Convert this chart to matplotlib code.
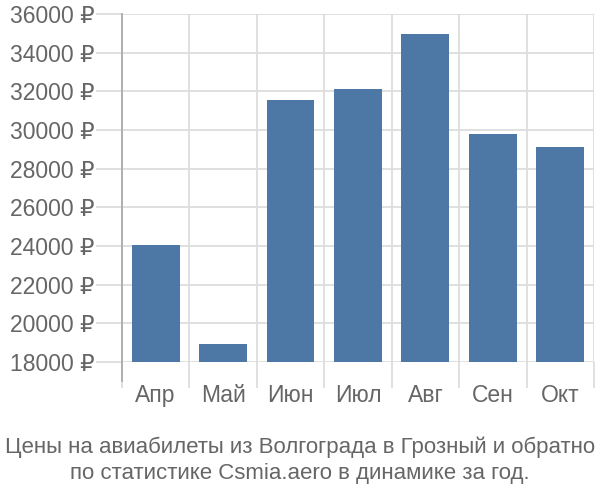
import matplotlib
matplotlib.use("Agg")
import matplotlib.pyplot as plt
import numpy as np

months = ["Апр", "Май", "Июн", "Июл", "Авг", "Сен", "Окт"]
prices = [24050, 18930, 31550, 32120, 34950, 29810, 29120]
yticks = list(range(18000, 36001, 2000))

plt.rcParams['font.family'] = ['Liberation Sans', 'DejaVu Sans']

fig = plt.figure(figsize=(6, 5), dpi=100)
ax = fig.add_axes([0.2033, 0.276, 0.7867, 0.696])

x = np.arange(len(months))
ax.bar(x, prices, width=0.71, color='#4d78a6', zorder=3)

ax.set_xlim(-0.5, len(months) - 0.5)
ax.set_ylim(18000, 36000)

grid_c = '#dddddd'
ax.set_yticks(yticks)
ax.set_yticklabels([f"{v} ₽" for v in yticks])
ax.set_xticks(x)
ax.set_xticklabels(months)
ax.set_xticks(np.arange(len(months) + 1) - 0.5, minor=True)

ax.tick_params(axis='y', length=19, width=1.3, color=grid_c, labelsize=16.5,
               labelcolor='#666666', pad=1)
ax.tick_params(axis='x', which='major', length=0, labelsize=16.5,
               labelcolor='#666666', pad=16)
ax.tick_params(axis='x', which='minor', length=19, width=1.3, color=grid_c)

ax.grid(axis='y', color=grid_c, linewidth=1.3, zorder=0)
ax.grid(axis='x', which='minor', color=grid_c, linewidth=1.3, zorder=0)

for s in ['top', 'right', 'bottom']:
    ax.spines[s].set_visible(False)
ax.spines['left'].set_color('#aaaaaa')
ax.spines['left'].set_linewidth(1.3)
ax.spines['left'].set_bounds(17000, 36000)

fig.text(0.5, 0.106, "Цены на авиабилеты из Волгограда в Грозный и обратно",
         ha='center', va='center', fontsize=16, color='#666666')
fig.text(0.5, 0.054, "по статистике Csmia.aero в динамике за год.",
         ha='center', va='center', fontsize=16, color='#666666')

fig.savefig("out.png", dpi=100)
